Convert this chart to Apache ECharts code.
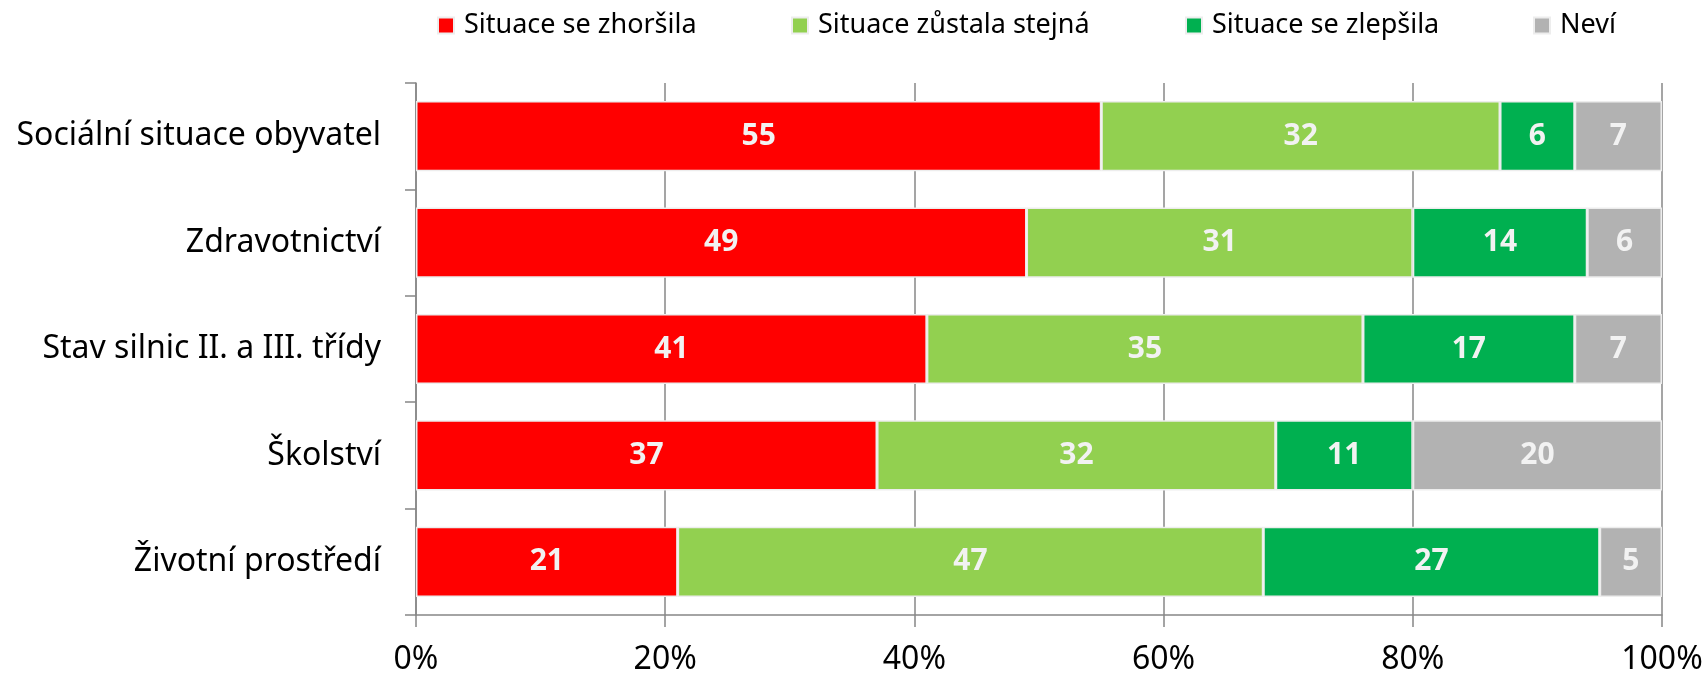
<!DOCTYPE html>
<html><head><meta charset="utf-8">
<script src="https://cdn.jsdelivr.net/npm/echarts@6/dist/echarts.min.js"></script>
<style>html,body{margin:0;padding:0;background:#fff}#c{width:1708px;height:678px}</style>
</head><body><div id="c"></div>
<script>
const categories = ['Sociální situace obyvatel','Zdravotnictví','Stav silnic II. a III. třídy','Školství','Životní prostředí'];
const seriesNames = ['Situace se zhoršila','Situace zůstala stejná','Situace se zlepšila','Neví'];
const worse = [55,49,41,37,21];
const same = [32,31,35,32,47];
const better = [6,14,17,11,27];
const dontKnow = [7,6,7,20,5];
const xTickLabels = ['0%','20%','40%','60%','80%','100%'];

const colors = ['#FF0000','#92D050','#00B050','#B2B2B2'];
const values = [worse, same, better, dontKnow];
const font = 'Noto Sans';
const legendLefts = [437, 791, 1185, 1533];

const chart = echarts.init(document.getElementById('c'), null, {renderer:'canvas'});
chart.setOption({
  animation:false,
  backgroundColor:'#fff',
  legend: seriesNames.map((n,i)=>({
    data:[n], left: legendLefts[i], top: 12, padding:0, itemWidth:16, itemHeight:16, icon:'rect',
    textStyle:{fontFamily:font, fontSize:27, color:'#000', padding:[0,0,0,5]}
  })),
  grid:{left:416, right:46, top:83, bottom:63, containLabel:false},
  xAxis:{
    type:'value', min:0, max:100, interval:20,
    axisLine:{show:true, lineStyle:{color:'#878787', width:1.5}},
    axisTick:{show:true, length:12, lineStyle:{color:'#878787', width:1.5}},
    splitLine:{show:true, lineStyle:{color:'#878787', width:1.5}},
    axisLabel:{fontFamily:font, fontSize:32, color:'#000', margin:29,
      formatter:(v)=>xTickLabels[Math.round(v/20)]}
  },
  yAxis:{
    type:'category', data:categories, inverse:true,
    axisLine:{show:true, lineStyle:{color:'#878787', width:1.5}},
    axisTick:{show:true, length:11, lineStyle:{color:'#878787', width:1.5}},
    axisLabel:{fontFamily:font, fontSize:32, color:'#000', margin:35}
  },
  series: seriesNames.map((n,i)=>({
    name:n, type:'bar', stack:'total', barWidth:'66%',
    data: values[i],
    itemStyle:{color:colors[i], borderColor:'#EDEDED', borderWidth:1.5},
    label:{show:true, position:'inside', color:'#F2F2F2', fontFamily:font, fontWeight:'bold', fontSize:30}
  }))
});
</script></body></html>
